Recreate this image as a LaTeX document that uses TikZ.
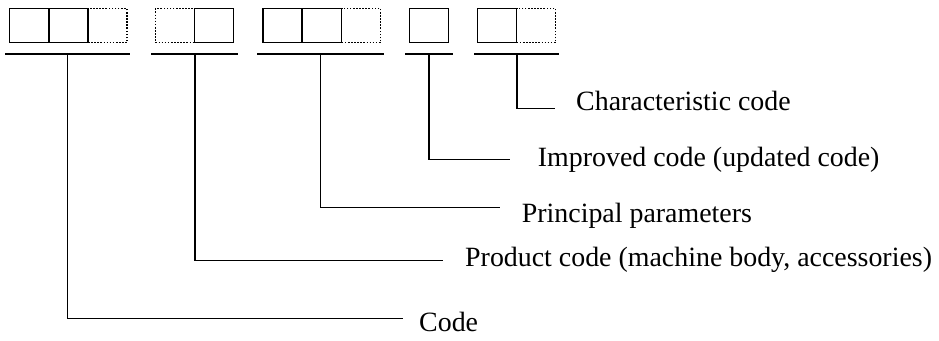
\documentclass[tikz,border=0pt]{standalone}
\usepackage{fontspec}
\setmainfont{Liberation Serif}
\begin{document}
\begin{tikzpicture}[x=1bp,y=-1bp,
  cell/.style={draw, line width=1.4bp, minimum width=39bp, minimum height=34bp, inner sep=0pt, anchor=north west},
  dcell/.style={cell, dash pattern=on 1.6bp off 1.5bp},
  bar/.style={line width=1.3bp},
  lead/.style={line width=1.2bp},
  lbl/.style={anchor=base west, inner sep=0pt, font=\fontsize{28}{32}\selectfont}]
\useasboundingbox (0,0) rectangle (939,340);
% dotted cells first
\node[dcell] (a3) at (87.3,8) {};
\node[dcell] (b1) at (154.7,8) {};
\node[dcell] (c3) at (341,8) {};
\node[dcell] (e2) at (516,8) {};
% solid cells
\node[cell] (a1) at (9,8) {};
\node[cell] (a2) at (48.3,8) {};
\node[cell] (b2) at (193.7,8) {};
\node[cell] (c1) at (262.3,8) {};
\node[cell] (c2) at (301.7,8) {};
\node[cell] (d1) at (408.7,8) {};
\node[cell] (e1) at (476.7,8) {};
% underlines
\coordinate (al) at (5,54);   \coordinate (ar) at (130,54);
\coordinate (bl) at (151,54); \coordinate (br) at (238,54);
\coordinate (cl) at (257,54); \coordinate (cr) at (384,54);
\coordinate (dl) at (405,54); \coordinate (dr) at (453,54);
\coordinate (el) at (474,54); \coordinate (er) at (559,54);
\draw[bar] (al) -- (ar);
\draw[bar] (bl) -- (br);
\draw[bar] (cl) -- (cr);
\draw[bar] (dl) -- (dr);
\draw[bar] (el) -- (er);
% labels
\node[lbl] (te) at (576,110.5) {Characteristic code};
\node[lbl] (td) at (537.7,166.5) {Improved code (updated code)};
\node[lbl] (tc) at (521.7,222) {Principal parameters};
\node[lbl] (tb) at (465,266) {Product code (machine body, accessories)};
\node[lbl] (ta) at (419,331.5) {Code};
% leader ends
\coordinate (ue) at (517,54);   \coordinate (ee) at (555,108.3);
\coordinate (ud) at (429,54);   \coordinate (ed) at (510,159.3);
\coordinate (uc) at (320.7,54); \coordinate (ec) at (500,207.7);
\coordinate (ub) at (195,54);   \coordinate (eb) at (442.7,260.7);
\coordinate (ua) at (67.7,54);  \coordinate (ea) at (402.7,318.7);
\draw[lead] (ue) |- (ee);
\draw[lead] (ud) |- (ed);
\draw[lead] (uc) |- (ec);
\draw[lead] (ub) |- (eb);
\draw[lead] (ua) |- (ea);
\end{tikzpicture}
\end{document}
